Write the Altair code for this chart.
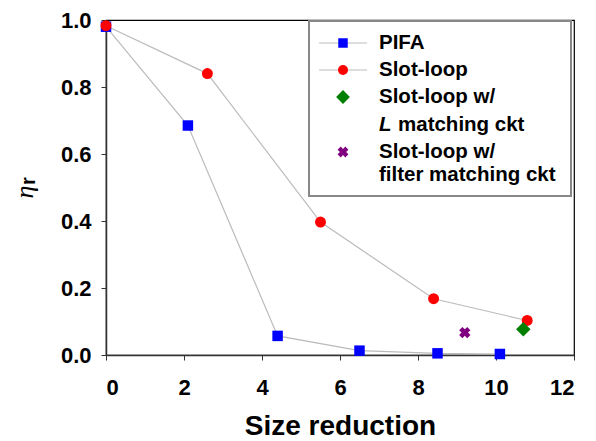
import altair as alt
import pandas as pd

# ---- data ----
pifa_x = [0.0, 2.1, 4.4, 6.5, 8.5, 10.1]
pifa_y = [0.980, 0.685, 0.057, 0.013, 0.005, 0.003]
slot_x = [0.0, 2.6, 5.5, 8.4, 10.8]
slot_y = [0.983, 0.840, 0.397, 0.168, 0.103]
lmatch_x = [10.7]
lmatch_y = [0.077]
filt_x = [9.2]
filt_y = [0.067]

x_ticks = [0, 2, 4, 6, 8, 10, 12]
y_ticks = [0.0, 0.2, 0.4, 0.6, 0.8, 1.0]

legend_lines = ["PIFA", "Slot-loop", "Slot-loop w/", "L", "matching ckt",
                "Slot-loop w/", "filter matching ckt"]
x_title = "Size reduction"
y_title_main = "η"
y_title_sub = "r"

FONT = "Liberation Sans"
GRAY = "#BBBBBB"
BLUE, RED, GREEN, PURPLE = "#0000FF", "#FF0000", "#008000", "#800080"


def frame(xs, ys, name):
    return pd.DataFrame({"x": xs, "y": ys, "series": name})


pifa = frame(pifa_x, pifa_y, "PIFA")
slot = frame(slot_x, slot_y, "Slot-loop")
lm = frame(lmatch_x, lmatch_y, "L")
fm = frame(filt_x, filt_y, "filter")

X = alt.X("x:Q", scale=alt.Scale(domain=[0, 12], nice=False),
          axis=alt.Axis(values=x_ticks, title=x_title, format="d",
                        labelPadding=17, titlePadding=14))
Y = alt.Y("y:Q", scale=alt.Scale(domain=[0, 1], nice=False),
          axis=alt.Axis(values=y_ticks, title=None, format=".1f",
                        labelPadding=10))

lines = alt.Chart(pd.concat([pifa, slot])).mark_line(
    color=GRAY, strokeWidth=1.2).encode(x=X, y=Y, detail="series:N")

p_pifa = alt.Chart(pifa).mark_point(shape="square", filled=True, color=BLUE,
                                    opacity=1, size=110).encode(x=X, y=Y)
p_slot = alt.Chart(slot).mark_point(shape="circle", filled=True, color=RED,
                                    opacity=1, size=120).encode(x=X, y=Y)
p_lm = alt.Chart(lm).mark_point(shape="diamond", filled=True, color=GREEN,
                                opacity=1, size=210).encode(x=X, y=Y)
p_fm = alt.Chart(fm).mark_point(shape="cross", angle=45, filled=True,
                                color=PURPLE, opacity=1, size=130).encode(x=X, y=Y)

one = alt.Data(values=[{"a": 1}])

# ---- manual legend ----
box = alt.Chart(one).mark_rect(fill="white", stroke="#888888", strokeWidth=2).encode(
    x=alt.value(203), x2=alt.value(465), y=alt.value(1), y2=alt.value(176))

SYM_X = 237
TXT_X = 273
rows_y = [23, 50, 77, 105, 132, 155]

leg_layers = [box]
for yy in rows_y[:2]:
    leg_layers.append(alt.Chart(one).mark_rule(color=GRAY, strokeWidth=1.2).encode(
        x=alt.value(213), x2=alt.value(261), y=alt.value(yy)))
leg_layers.append(alt.Chart(one).mark_point(shape="square", filled=True, color=BLUE,
                                            opacity=1, size=90).encode(
    x=alt.value(SYM_X), y=alt.value(rows_y[0])))
leg_layers.append(alt.Chart(one).mark_point(shape="circle", filled=True, color=RED,
                                            opacity=1, size=100).encode(
    x=alt.value(SYM_X), y=alt.value(rows_y[1])))
leg_layers.append(alt.Chart(one).mark_point(shape="diamond", filled=True, color=GREEN,
                                            opacity=1, size=190).encode(
    x=alt.value(SYM_X), y=alt.value(rows_y[2])))
leg_layers.append(alt.Chart(one).mark_point(shape="cross", angle=45, filled=True,
                                            color=PURPLE, opacity=1, size=120).encode(
    x=alt.value(SYM_X), y=alt.value(rows_y[4])))

text_specs = [
    (legend_lines[0], TXT_X, rows_y[0], "normal"),
    (legend_lines[1], TXT_X, rows_y[1], "normal"),
    (legend_lines[2], TXT_X, rows_y[2], "normal"),
    (legend_lines[3], TXT_X, rows_y[3], "italic"),
    (legend_lines[4], TXT_X + 19, rows_y[3], "normal"),
    (legend_lines[5], TXT_X, rows_y[4], "normal"),
    (legend_lines[6], TXT_X, rows_y[5], "normal"),
]
for txt, tx, ty, style in text_specs:
    leg_layers.append(alt.Chart(one).mark_text(
        text=txt, align="left", baseline="middle", font=FONT, fontSize=20.5,
        fontWeight="bold", fontStyle=style, color="black").encode(
        x=alt.value(tx), y=alt.value(ty)))

# ---- y-axis title (eta with subscript r) ----
yt_main = alt.Chart(one).mark_text(
    text=y_title_main, angle=270, align="center", baseline="middle",
    font="Liberation Serif", fontStyle="italic", fontSize=26, color="black").encode(
    x=alt.value(-81), y=alt.value(172))
yt_sub = alt.Chart(one).mark_text(
    text=y_title_sub, angle=270, align="center", baseline="middle",
    font=FONT, fontWeight="bold", fontSize=20, color="black").encode(
    x=alt.value(-77), y=alt.value(161))

chart = alt.layer(lines, p_pifa, p_slot, p_lm, p_fm, *leg_layers, yt_main, yt_sub).properties(
    width=468, height=335,
    autosize=alt.AutoSizeParams(type="none"),
    padding={"left": 98, "top": 12, "right": 14, "bottom": 84},
).configure_view(stroke="black", strokeWidth=1.2).configure_axis(
    labelFont=FONT, labelFontWeight="bold", labelFontSize=22, labelColor="black",
    titleFont=FONT, titleFontWeight="bold", titleFontSize=28, titleColor="black",
    domainColor="#333333", domainWidth=1.5, tickColor="#333333", tickSize=5,
    grid=False,
)

chart.save("out.html", embed_options={"renderer": "svg", "actions": False})
